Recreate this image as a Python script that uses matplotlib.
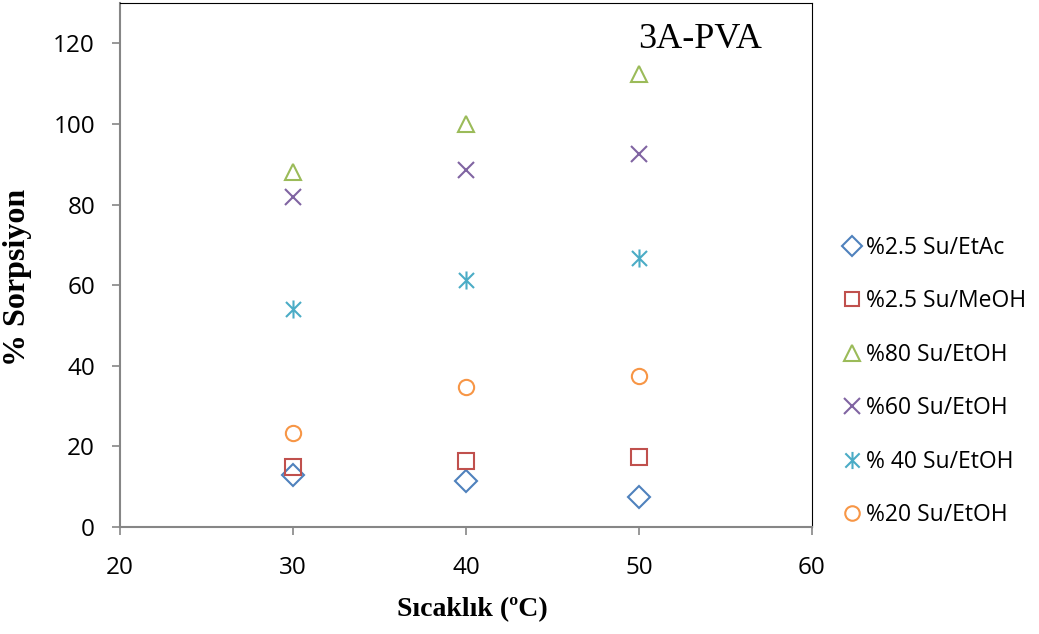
import numpy as np
import matplotlib.pyplot as plt
from matplotlib.path import Path

# temperatures (C)
temps = [30, 40, 50]

# % sorption for each feed mixture
etac_25 = [12.9, 11.4, 7.4]
meoh_25 = [14.9, 16.4, 17.4]
etoh_80 = [88.0, 99.9, 112.3]
etoh_60 = [81.8, 88.5, 92.5]
etoh_40 = [54.1, 61.2, 66.7]
etoh_20 = [23.3, 34.7, 37.4]

labels = ['%2.5 Su/EtAc', '%2.5 Su/MeOH', '%80 Su/EtOH',
          '%60 Su/EtOH', '% 40 Su/EtOH', '%20 Su/EtOH']

# excel style asterisk: an x with a vertical bar through it
star = Path([(-1, -1), (1, 1), (-1, 1), (1, -1), (0, -1.2), (0, 1.2)],
            [Path.MOVETO, Path.LINETO, Path.MOVETO, Path.LINETO, Path.MOVETO, Path.LINETO])

series = [
    (etac_25, 'D', '#4F81BD', 11),
    (meoh_25, 's', '#C0504D', 11),
    (etoh_80, '^', '#9BBB59', 12),
    (etoh_60, 'x', '#8064A2', 12),
    (etoh_40, star, '#4BACC6', 13),
    (etoh_20, 'o', '#F79646', 11),
]

plt.rcParams['font.family'] = ['Open Sans', 'DejaVu Sans']

fig = plt.figure(figsize=(10.39, 6.34), dpi=100)
ax = fig.add_axes([0.1155, 0.1688, 0.666, 0.8265])

handles = []
for (vals, m, c, ms), lab in zip(series, labels):
    h, = ax.plot(temps, vals, linestyle='none', marker=m, markersize=ms,
                 markerfacecolor='none', markeredgecolor=c, markeredgewidth=1.5,
                 label=lab)
    handles.append(h)

ax.set_xlim(20, 60)
ax.set_ylim(0, 130)
ax.set_xticks([20, 30, 40, 50, 60])
ax.set_yticks([0, 20, 40, 60, 80, 100, 120])
ax.tick_params(labelsize=17.5, length=6, width=1.2, color='#868686')
ax.tick_params(axis='x', pad=15)
ax.tick_params(axis='y', pad=12)

for s in ['left', 'bottom']:
    ax.spines[s].set_color('#868686')
    ax.spines[s].set_linewidth(1.5)
for s in ['top', 'right']:
    ax.spines[s].set_color('black')
    ax.spines[s].set_linewidth(0.8)

ax.set_xlabel('Sıcaklık (ºC)', family='Liberation Serif', weight='bold', fontsize=20)
ax.xaxis.set_label_coords(0.509, -0.134)
ax.set_ylabel('% Sorpsiyon', family='Liberation Serif', weight='bold', fontsize=23)
ax.yaxis.set_label_coords(-0.127, 0.477)

ax.text(0.838, 0.93, '3A-PVA', transform=ax.transAxes, family='Liberation Serif',
        fontsize=26, ha='center', va='center')

fig.legend(handles=handles, loc='upper left', bbox_to_anchor=(0.792, 0.661),
           frameon=False, fontsize=16.5, handlelength=0.7, handletextpad=0.3,
           labelspacing=1.29, markerscale=0.95)

fig.savefig('out.png', dpi=100)
